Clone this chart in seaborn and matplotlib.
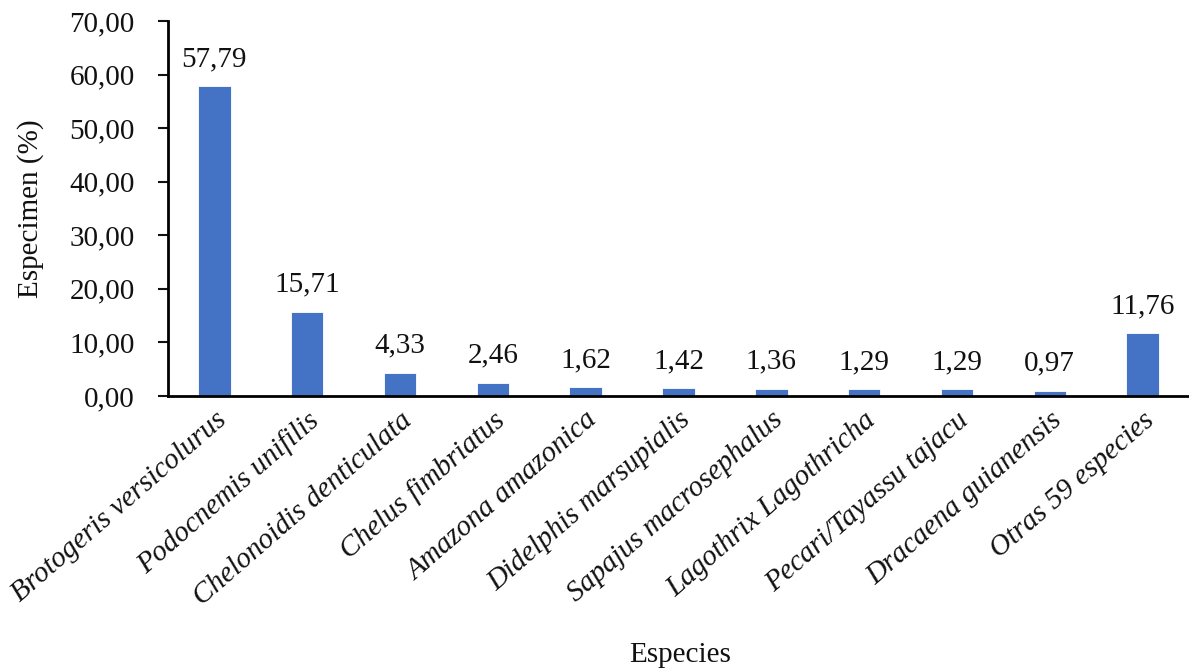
import numpy as np
import pandas as pd
import seaborn as sns
import matplotlib.pyplot as plt
from matplotlib.ticker import FuncFormatter

# Data
especies = ['Brotogeris versicolurus', 'Podocnemis unifilis', 'Chelonoidis denticulata',
            'Chelus fimbriatus', 'Amazona amazonica', 'Didelphis marsupialis',
            'Sapajus macrosephalus', 'Lagothrix Lagothricha', 'Pecari/Tayassu tajacu',
            'Dracaena guianensis', 'Otras 59 especies']
porcentaje = [57.79, 15.71, 4.33, 2.46, 1.62, 1.42, 1.36, 1.29, 1.29, 0.97, 11.76]
yticks = [0, 10, 20, 30, 40, 50, 60, 70]

df = pd.DataFrame({'Especies': especies, 'Especimen': porcentaje})

sns.set_style('white')
plt.rcParams['font.family'] = ['Liberation Serif', 'DejaVu Serif']

fig = plt.figure(figsize=(11.89, 6.71), dpi=100)
ax = fig.add_axes([0.1413, 0.410, 0.8587, 0.5587])

sns.barplot(data=df, x='Especies', y='Especimen', color='#4472C4', width=0.35,
            saturation=1, edgecolor='white', linewidth=0.6, ax=ax)

# value labels with comma decimals
for i, v in enumerate(porcentaje):
    ax.text(i, v + 2.6, f'{v:.2f}'.replace('.', ','), ha='center', va='bottom',
            fontsize=21, color='#111111')

ax.set_ylim(0, 70)
ax.set_xlim(-0.5, len(especies) - 0.5)
ax.set_yticks(yticks)
ax.yaxis.set_major_formatter(FuncFormatter(lambda y, p: f'{y:.2f}'.replace('.', ',')))
ax.tick_params(axis='y', labelsize=21, length=7, width=1.5, direction='out', left=True,
               colors='#111111', pad=17)
ax.tick_params(axis='x', length=0, pad=8)
ax.set_xticks(range(len(especies)))
ax.set_xticklabels(especies, rotation=41, ha='right', rotation_mode='anchor',
                   fontsize=21, style='italic', color='#111111')

for s in ['top', 'right']:
    ax.spines[s].set_visible(False)
for s in ['left', 'bottom']:
    ax.spines[s].set_linewidth(2)
    ax.spines[s].set_color('black')

ax.set_ylabel('Especimen (%)', fontsize=21, color='#111111')
ax.yaxis.set_label_coords(-0.121, 0.5)
ax.set_xlabel('')
fig.text(0.572, 0.024, 'Especies', ha='center', va='center', fontsize=21, color='#111111')

fig.savefig('out.png', dpi=100)
